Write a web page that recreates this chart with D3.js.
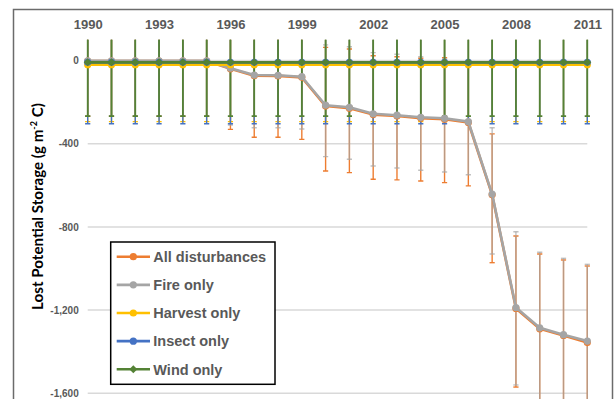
<!DOCTYPE html>
<html>
<head>
<meta charset="utf-8">
<script src="https://cdn.jsdelivr.net/npm/d3@7"></script>
<style>
  body { margin: 0; background: #fff; }
  svg { display: block; }
</style>
</head>
<body>
<svg id="chart" width="616" height="399"></svg>
<script>
// Years on the category axis
const years = [1990, 1991, 1992, 1993, 1994, 1995, 1996, 1997, 1998, 1999, 2000,
               2001, 2002, 2003, 2004, 2005, 2006, 2007, 2008, 2009, 2010, 2011];
const yearLabels = [1990, 1993, 1996, 1999, 2002, 2005, 2008, 2011];
const yTicks = [0, -400, -800, -1200, -1600];

// Lost potential storage (g m-2 C) per scenario
const allDisturbances = [-3, -3, -3, -3, -3, -3, -40, -73, -74, -81, -219, -229, -260, -267, -277, -282, -298, -646, -1192, -1290, -1322, -1356];
const fireOnly        = [-2, -2, -2, -2, -2, -2, -37, -70, -71, -78, -215, -225, -256, -263, -273, -278, -294, -642, -1188, -1285, -1318, -1349];
const harvestOnly     = [-20, -20, -20, -20, -20, -20, -20, -20, -20, -20, -20, -20, -20, -20, -20, -20, -20, -20, -20, -20, -20, -20];
const insectOnly      = [-9, -9, -9, -9, -9, -9, -9, -9, -9, -9, -9, -9, -9, -9, -9, -9, -9, -9, -9, -9, -9, -9];
const windOnly        = [-9, -9, -9, -9, -9, -9, -9, -9, -9, -9, -9, -9, -9, -9, -9, -9, -9, -9, -9, -9, -9, -9];

// Error bar extents above (plus) and below (minus) each value
const allPlus   = [290, 290, 290, 290, 290, 290, 290, 290, 290, 290, 282, 284, 283, 285, 288, 295, 290, 293, 348, 360, 363, 368];
const allMinus  = [265, 265, 265, 265, 265, 265, 291, 296, 295, 298, 312, 310, 311, 307, 302, 305, 305, 326, 378, 380, 382, 385];
const firePlus  = [290, 290, 290, 290, 290, 290, 290, 290, 290, 290, 290, 291, 294, 293, 291, 284, 285, 319, 365, 363, 367, 369];
const fireMinus = [265, 265, 265, 265, 265, 265, 273, 253, 252, 251, 247, 250, 251, 254, 255, 258, 255, 288, 372, 370, 372, 375];
const harvestErr = [274, 274, 274, 274, 274, 274, 274, 274, 274, 274, 274, 274, 274, 274, 274, 274, 274, 274, 274, 274, 274, 274];
const insectErr  = [295, 295, 295, 295, 295, 295, 295, 295, 295, 295, 295, 295, 295, 295, 295, 295, 295, 295, 295, 295, 295, 295];
const windErr    = [258, 258, 258, 258, 258, 258, 258, 258, 258, 258, 258, 258, 258, 258, 258, 258, 258, 258, 258, 258, 258, 258];

const series = [
  { name: "All disturbances", values: allDisturbances, plus: allPlus, minus: allMinus, color: "#ED7D31", marker: "circle", barOpacity: 1 },
  { name: "Fire only", values: fireOnly, plus: firePlus, minus: fireMinus, color: "#A5A5A5", marker: "circle", barOpacity: 0.7 },
  { name: "Harvest only", values: harvestOnly, plus: harvestErr, minus: harvestErr, color: "#FFC000", marker: "circle", barOpacity: 1 },
  { name: "Insect only", values: insectOnly, plus: insectErr, minus: insectErr, color: "#4472C4", marker: "circle", barOpacity: 1 },
  { name: "Wind only", values: windOnly, plus: windErr, minus: windErr, color: "#548235", marker: "diamond", barOpacity: 1 }
];

const svg = d3.select("#chart");
const W = 616, H = 399;
const textGray = "#595959";
const font = "'Liberation Sans', Arial, sans-serif";

svg.append("rect").attr("width", W).attr("height", H).attr("fill", "#fff");
// chart frame
svg.append("rect")
  .attr("x", 13.5).attr("y", 9.5).attr("width", 599).attr("height", 420)
  .attr("fill", "none").attr("stroke", "#6b6b6b").attr("stroke-width", 1.5);

const x = d3.scalePoint().domain(years).range([87.7, 587.3]);
const y = d3.scaleLinear().domain([-2000, 100]).range([476.5, 39.7]);

const fmt = d3.formatLocale({ decimal: ".", thousands: ",", grouping: [3], currency: ["", ""], minus: "-" }).format(",");

// gridlines
svg.append("g").selectAll("line").data(yTicks).join("line")
  .attr("x1", x.range()[0]).attr("x2", x.range()[1])
  .attr("y1", d => y(d)).attr("y2", d => y(d))
  .attr("stroke", "#d9d9d9").attr("stroke-width", 1.5);

// y axis labels
const yAxis = svg.append("g").attr("transform", `translate(${x.range()[0]},0)`)
  .call(d3.axisLeft(y).tickValues(yTicks).tickSize(0).tickPadding(9).tickFormat(fmt));
yAxis.select(".domain").remove();
yAxis.selectAll("text").attr("fill", textGray).attr("font-family", font)
  .attr("font-size", 10).attr("font-weight", "bold");

// year labels along the top
const xAxis = svg.append("g").attr("transform", `translate(0,${y(100)})`)
  .call(d3.axisTop(x).tickValues(yearLabels).tickSize(0).tickPadding(11));
xAxis.select(".domain").remove();
xAxis.selectAll("text").attr("fill", textGray).attr("font-family", font)
  .attr("font-size", 13).attr("font-weight", "bold");

// y axis title
const title = svg.append("text")
  .attr("transform", `translate(43,206.5) rotate(-90)`)
  .attr("text-anchor", "middle")
  .attr("font-family", "Lato, 'Liberation Sans', sans-serif")
  .attr("font-weight", "bold").attr("font-size", 15).attr("fill", "#000");
title.append("tspan").text("Lost Potential Storage (g m");
title.append("tspan").attr("font-size", 9).attr("dy", -6).text("-2");
title.append("tspan").attr("dy", 6).text(" C)");
const tLen = title.node().getComputedTextLength();
if (tLen > 0) {
  const s = 207 / tLen;
  title.attr("font-size", 15 * s);
  title.selectAll("tspan").filter((d, i) => i === 1).attr("font-size", 9 * s).attr("dy", -6 * s);
  title.selectAll("tspan").filter((d, i) => i === 2).attr("dy", 6 * s);
}

// plot clip
svg.append("clipPath").attr("id", "plotClip")
  .append("rect").attr("x", 70).attr("y", y(100)).attr("width", 540).attr("height", y(-2000) - y(100));

const plot = svg.append("g").attr("clip-path", "url(#plotClip)");

// error bars
const capW = 2.6;
series.forEach(s => {
  const g = plot.append("g").attr("stroke", s.color).attr("stroke-opacity", s.barOpacity)
    .attr("stroke-width", s.name === "Wind only" ? 1.75 : 1.4);
  s.values.forEach((v, i) => {
    const cx = x(years[i]);
    const top = y(v + s.plus[i]);
    const bot = y(v - s.minus[i]);
    g.append("line").attr("x1", cx).attr("x2", cx).attr("y1", top).attr("y2", bot);
    g.append("line").attr("x1", cx - capW).attr("x2", cx + capW).attr("y1", top).attr("y2", top);
    g.append("line").attr("x1", cx - capW).attr("x2", cx + capW).attr("y1", bot).attr("y2", bot);
  });
});

const diamond = "M0,-4L4,0L0,4L-4,0Z";
const line = d3.line().x((d, i) => x(years[i])).y(d => y(d));

// series lines and markers
series.forEach(s => {
  plot.append("path").datum(s.values).attr("d", line)
    .attr("fill", "none").attr("stroke", s.color).attr("stroke-width", 2.6)
    .attr("stroke-linejoin", "round");
  const mg = plot.append("g").attr("fill", s.color);
  s.values.forEach((v, i) => {
    if (s.marker === "circle") {
      mg.append("circle").attr("cx", x(years[i])).attr("cy", y(v)).attr("r", 3.6);
    } else {
      mg.append("path").attr("d", diamond).attr("transform", `translate(${x(years[i])},${y(v)})`);
    }
  });
});

// legend
const lg = svg.append("g");
lg.append("rect").attr("x", 110.7).attr("y", 242).attr("width", 164.3).attr("height", 142.3)
  .attr("fill", "#fff").attr("stroke", "#000").attr("stroke-width", 1.5);
series.forEach((s, i) => {
  const cy = 256.7 + i * 28.15;
  lg.append("line").attr("x1", 116.7).attr("x2", 150).attr("y1", cy).attr("y2", cy)
    .attr("stroke", s.color).attr("stroke-width", 2.6);
  if (s.marker === "circle") {
    lg.append("circle").attr("cx", 133.3).attr("cy", cy).attr("r", 3.6).attr("fill", s.color);
  } else {
    lg.append("path").attr("d", diamond).attr("transform", `translate(133.3,${cy})`).attr("fill", s.color);
  }
  lg.append("text").attr("x", 153.3).attr("y", cy).attr("dy", "0.36em")
    .attr("font-family", font).attr("font-weight", "bold").attr("font-size", 14.5)
    .attr("fill", textGray).text(s.name);
});
</script>
</body>
</html>
